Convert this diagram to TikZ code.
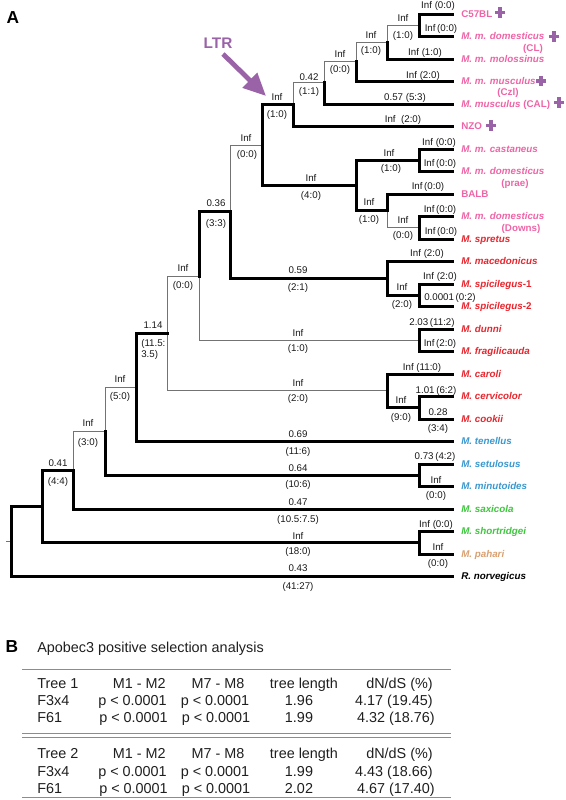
\documentclass[tikz,border=0pt]{standalone}
\usepackage{fontspec}
\setmainfont{Liberation Sans}
\usetikzlibrary{arrows.meta}
\definecolor{pinkc}{HTML}{EE64A6}
\definecolor{redc}{HTML}{E8252D}
\definecolor{bluec}{HTML}{3A98CF}
\definecolor{greenc}{HTML}{3DC73D}
\definecolor{tanc}{HTML}{D9A071}
\definecolor{purc}{HTML}{9A63A8}
\begin{document}
\begin{tikzpicture}[x=0.75pt,y=-0.75pt,
  thk/.style={line width=2.25pt,line cap=rect,line join=miter},
  thn/.style={line width=0.75pt,draw=black!55},
  bl/.style={anchor=base,inner sep=0pt,yshift=-2.4pt,font=\fontsize{7.3}{8.8}\selectfont,text=black!90},
  bll/.style={bl,anchor=base west},
  leaf/.style={anchor=base west,inner sep=0pt,yshift=-2.6pt,font=\fontsize{7.35}{8.8}\selectfont\bfseries},
  sub/.style={anchor=base,inner sep=0pt,yshift=-2.6pt,font=\fontsize{7.35}{8.8}\selectfont\bfseries,text=pinkc},
  plusm/.style={inner sep=0pt,minimum size=7.8pt,
    path picture={\draw[purc,line width=2.3pt]
      (path picture bounding box.north) -- (path picture bounding box.south)
      (path picture bounding box.west) -- (path picture bounding box.east);}},
  tb/.style={inner sep=0pt,yshift=-3.8pt,font=\fontsize{10.8}{13}\selectfont,text=black!88},
  rl/.style={line width=0.75pt,draw=black!45},
  panel/.style={inner sep=0pt,font=\fontsize{13}{13}\selectfont\bfseries}
]
\useasboundingbox (0,0) rectangle (566,800);

% leaf tips
\foreach \i in {1,...,26} \coordinate (t\i) at (452,{14+22.5*(\i-1)});
% internal nodes
\coordinate (root) at (11,541.5);
\coordinate (rootstub) at (6,541.5);
\coordinate (nA) at (42,506.5);
\coordinate (nB) at (73,470.2);
\coordinate (nC) at (105,431.4);
\coordinate (nD) at (136,387.5);
\coordinate (nE) at (167,333.4);
\coordinate (nG) at (199,276);
\coordinate (nH) at (230,211.8);
\coordinate (nI) at (262,145.1);
\coordinate (nJ) at (293,104.7);
\coordinate (nO) at (324,82.9);
\coordinate (nP) at (356,61.8);
\coordinate (nQ) at (387,42.1);
\coordinate (nR) at (419,25.25);
\coordinate (nK) at (356,185.6);
\coordinate (nL) at (419,160.25);
\coordinate (nM) at (387,210.9);
\coordinate (nN) at (419,227.75);
\coordinate (nS) at (387,278.4);
\coordinate (nT) at (419,295.25);
\coordinate (nU) at (419,340.25);
\coordinate (nV) at (387,390.9);
\coordinate (nW) at (419,407.75);
\coordinate (nX) at (419,475.25);
\coordinate (nY) at (419,542.75);

% thin branches
\draw[thn] (rootstub) -- (root);
\foreach \p/\c in {nE/nG,nE/nV,nG/nU,nH/nI,nJ/nO,nO/nP,nP/nQ,nQ/nR,nM/nN,nB/nC,nC/nD}
  \draw[thn] (\p) |- (\c);
% thick branches
\foreach \p/\c in {root/nA,root/t26,nA/nB,nA/nY,nB/t23,nC/nX,nD/nE,nD/t20,nG/nH,nH/nS,
  nI/nJ,nI/nK,nJ/t6,nO/t5,nP/t4,nQ/t3,nR/t1,nR/t2,nK/nL,nK/nM,nL/t7,nL/t8,nM/t9,
  nN/t10,nN/t11,nS/t12,nS/nT,nT/t13,nT/t14,nU/t15,nU/t16,nV/t17,nV/nW,nW/t18,nW/t19,
  nX/t21,nX/t22,nY/t24,nY/t25}
  \draw[thk] (\p) |- (\c);

% leaf labels
\node[leaf,text=pinkc] (l1) at (461,14) {C57BL};
\node[leaf,text=pinkc] (l2) at (461,36.5) {\textit{M. m. domesticus}};
\node[leaf,text=pinkc] (l3) at (461,59) {\textit{M. m. molossinus}};
\node[leaf,text=pinkc] (l4) at (461,81.5) {\textit{M. m. musculus}};
\node[leaf,text=pinkc] (l5) at (461,104) {\textit{M. musculus} (CAL)};
\node[leaf,text=pinkc] (l6) at (461,126.5) {NZO};
\node[leaf,text=pinkc] (l7) at (461,149) {\textit{M. m. castaneus}};
\node[leaf,text=pinkc] (l8) at (461,171.5) {\textit{M. m. domesticus}};
\node[leaf,text=pinkc] (l9) at (461,194) {BALB};
\node[leaf,text=pinkc] (l10) at (461,216.5) {\textit{M. m. domesticus}};
\node[leaf,text=redc] (l11) at (461,239) {\textit{M. spretus}};
\node[leaf,text=redc] (l12) at (461,261.5) {\textit{M. macedonicus}};
\node[leaf,text=redc] (l13) at (461,284) {\textit{M. spicilegus}-1};
\node[leaf,text=redc] (l14) at (461,306.5) {\textit{M. spicilegus}-2};
\node[leaf,text=redc] (l15) at (461,329) {\textit{M. dunni}};
\node[leaf,text=redc] (l16) at (461,351.5) {\textit{M. fragilicauda}};
\node[leaf,text=redc] (l17) at (461,374) {\textit{M. caroli}};
\node[leaf,text=redc] (l18) at (461,396.5) {\textit{M. cervicolor}};
\node[leaf,text=redc] (l19) at (461,419) {\textit{M. cookii}};
\node[leaf,text=bluec] (l20) at (461,441.5) {\textit{M. tenellus}};
\node[leaf,text=bluec] (l21) at (461,464) {\textit{M. setulosus}};
\node[leaf,text=bluec] (l22) at (461,486.5) {\textit{M. minutoides}};
\node[leaf,text=greenc] (l23) at (461,509) {\textit{M. saxicola}};
\node[leaf,text=greenc] (l24) at (461,531.5) {\textit{M. shortridgei}};
\node[leaf,text=tanc] (l25) at (461,554) {\textit{M. pahari}};
\node[leaf,text=black] (l26) at (461,576.5) {\textit{R. norvegicus}};
% sub labels
\node[sub] (sCL) at (533,48) {(CL)};
\node[sub] (sCzl) at (508,92) {(Czl)};
\node[sub] (sprae) at (515,183) {(prae)};
\node[sub] (sDowns) at (521,228) {(Downs)};
% plus marks
\node[plusm] (pl1) at (500,12.5) {};
\node[plusm] (pl2) at (554,36.5) {};
\node[plusm] (pl4) at (541,81) {};
\node[plusm] (pl5) at (559,102.5) {};
\node[plusm] (pl6) at (491,125.5) {};

% LTR arrow
\node[inner sep=0pt,text=purc,font=\fontsize{11.5}{12}\selectfont\bfseries] (ltr) at (218,43) {LTR};
\coordinate (ltrtail) at (223,54);
\coordinate (ltrtip) at (266,96);
\draw[purc,line width=3.6pt,-{Triangle[length=17pt,width=15pt]}] (ltrtail) -- (ltrtip);

% branch labels
\node[bl] (b1) at (438,5) {Inf (0:0)};
\node[bl] (b2) at (441,28) {Inf\,(0:0)};
\node[bl] (b3a) at (403,18) {Inf};
\node[bl] (b3b) at (403,35) {(1:0)};
\node[bl] (b4) at (425,52) {Inf (1:0)};
\node[bl] (b5a) at (371,35) {Inf};
\node[bl] (b5b) at (371,50) {(1:0)};
\node[bl] (b6) at (423,75) {Inf (2:0)};
\node[bl] (b7a) at (340,54) {Inf};
\node[bl] (b7b) at (340,69) {(0:0)};
\node[bl] (b8) at (405,97) {0.57 (5:3)};
\node[bl] (b9a) at (309,77) {0.42};
\node[bl] (b9b) at (309,91) {(1:1)};
\node[bl] (b10) at (403,119) {Inf\ \ (2:0)};
\node[bl] (b11a) at (277,97) {Inf};
\node[bl] (b11b) at (277,114) {(1:0)};
\node[bl] (b12a) at (311,178) {Inf};
\node[bl] (b12b) at (311,195) {(4:0)};
\node[bl] (b13a) at (389,153) {Inf};
\node[bl] (b13b) at (391,168) {(1:0)};
\node[bl] (b14) at (439,142) {Inf (0:0)};
\node[bl] (b15) at (440,163) {Inf\,(0:0)};
\node[bl] (b16a) at (369,202) {Inf};
\node[bl] (b16b) at (369,219) {(1:0)};
\node[bl] (b17) at (428,186.5) {Inf\,(0:0)};
\node[bl] (b18a) at (403,220) {Inf};
\node[bl] (b18b) at (403,235) {(0:0)};
\node[bl] (b19) at (440,209) {Inf\,(0:0)};
\node[bl] (b20) at (441,231) {Inf\,(0:0)};
\node[bl] (b21a) at (246,138) {Inf};
\node[bl] (b21b) at (247,154) {(0:0)};
\node[bl] (b22a) at (216,203) {0.36};
\node[bl] (b22b) at (216,223) {(3:3)};
\node[bl] (b23a) at (298,270) {0.59};
\node[bl] (b23b) at (298,287) {(2:1)};
\node[bl] (b24) at (427,253) {Inf (2:0)};
\node[bl] (b25a) at (402,287) {Inf};
\node[bl] (b25b) at (402,304) {(2:0)};
\node[bl] (b26) at (440,276) {Inf (2:0)};
\node[bl] (b27) at (450,297.5) {0.0001\,(0:2)};
\node[bl] (b28a) at (183,268) {Inf};
\node[bl] (b28b) at (183,285) {(0:0)};
\node[bl] (b29a) at (298,333) {Inf};
\node[bl] (b29b) at (298,348) {(1:0)};
\node[bl] (b30) at (432,322) {2.03\,(11:2)};
\node[bl] (b31) at (440,343) {Inf\,(2:0)};
\node[bl] (b32a) at (298,383) {Inf};
\node[bl] (b32b) at (298,398) {(2:0)};
\node[bl] (b33) at (422,367) {Inf (11:0)};
\node[bl] (b34a) at (401,400) {Inf};
\node[bl] (b34b) at (401,417) {(9:0)};
\node[bl] (b35) at (436,390) {1.01\,(6:2)};
\node[bl] (b36a) at (438,412) {0.28};
\node[bl] (b36b) at (438,428) {(3:4)};
\node[bl] (b37a) at (153,325) {1.14};
\node[bll] (b37b) at (141,343) {(11.5:};
\node[bll] (b37c) at (141,354) {3.5)};
\node[bl] (b38a) at (298,434) {0.69};
\node[bl] (b38b) at (298,451) {(11:6)};
\node[bl] (b39a) at (120,379) {Inf};
\node[bl] (b39b) at (120,396) {(5:0)};
\node[bl] (b40a) at (298,468) {0.64};
\node[bl] (b40b) at (298,484) {(10:6)};
\node[bl] (b41) at (435,456) {0.73\,(4:2)};
\node[bl] (b42a) at (436,480) {Inf};
\node[bl] (b42b) at (436,495) {(0:0)};
\node[bl] (b43a) at (88,423) {Inf};
\node[bl] (b43b) at (88,442) {(3:0)};
\node[bl] (b44a) at (298,502) {0.47};
\node[bl] (b44b) at (298,519) {(10.5:7.5)};
\node[bl] (b45a) at (58,463) {0.41};
\node[bl] (b45b) at (58,481) {(4:4)};
\node[bl] (b46a) at (298,536) {Inf};
\node[bl] (b46b) at (298,551) {(18:0)};
\node[bl] (b47) at (436,524) {Inf (0:0)};
\node[bl] (b48a) at (438,547) {Inf};
\node[bl] (b48b) at (438,563) {(0:0)};
\node[bl] (b49a) at (298,568) {0.43};
\node[bl] (b49b) at (298,586) {(41:27)};

% panel letters
\node[panel] (pA) at (13,18) {A};
\node[panel] (pB) at (12,647) {B};

% table
\node[tb,anchor=base west] (title) at (37,647) {Apobec3 positive selection analysis};
\draw[rl] (22,669) -- (451,669);
\draw[rl] (22,733) -- (451,733);
\draw[rl] (22,737) -- (451,737);
\draw[rl] (22,797) -- (451,797);

\node[tb,anchor=base west] (r1c1) at (37,683) {Tree 1};
\node[tb,anchor=base east] (r1c2) at (166,683) {M1 - M2};
\node[tb,anchor=base] (r1c3) at (218,683) {M7 - M8};
\node[tb,anchor=base] (r1c4) at (304,683) {tree length};
\node[tb,anchor=base east] (r1c5) at (433,683) {dN/dS (\%)};

\node[tb,anchor=base west] (r2c1) at (37,700) {F3x4};
\node[tb,anchor=base east] (r2c2) at (167,700) {p < 0.0001};
\node[tb,anchor=base] (r2c3) at (215,700) {p < 0.0001};
\node[tb,anchor=base] (r2c4) at (299,700) {1.96};
\node[tb,anchor=base east] (r2c5) at (433,700) {4.17 (19.45)};

\node[tb,anchor=base west] (r3c1) at (37,717) {F61};
\node[tb,anchor=base east] (r3c2) at (168,717) {p < 0.0001};
\node[tb,anchor=base] (r3c3) at (216,717) {p < 0.0001};
\node[tb,anchor=base] (r3c4) at (299,717) {1.99};
\node[tb,anchor=base east] (r3c5) at (435,717) {4.32 (18.76)};

\node[tb,anchor=base west] (r4c1) at (37,753) {Tree 2};
\node[tb,anchor=base east] (r4c2) at (166,753) {M1 - M2};
\node[tb,anchor=base] (r4c3) at (218,753) {M7 - M8};
\node[tb,anchor=base] (r4c4) at (304,753) {tree length};
\node[tb,anchor=base east] (r4c5) at (433,753) {dN/dS (\%)};

\node[tb,anchor=base west] (r5c1) at (37,771) {F3x4};
\node[tb,anchor=base east] (r5c2) at (167,771) {p < 0.0001};
\node[tb,anchor=base] (r5c3) at (215,771) {p < 0.0001};
\node[tb,anchor=base] (r5c4) at (299,771) {1.99};
\node[tb,anchor=base east] (r5c5) at (433,771) {4.43 (18.66)};

\node[tb,anchor=base west] (r6c1) at (37,788) {F61};
\node[tb,anchor=base east] (r6c2) at (168,788) {p < 0.0001};
\node[tb,anchor=base] (r6c3) at (216,788) {p < 0.0001};
\node[tb,anchor=base] (r6c4) at (299,788) {2.02};
\node[tb,anchor=base east] (r6c5) at (435,788) {4.67 (17.40)};
\end{tikzpicture}
\end{document}
